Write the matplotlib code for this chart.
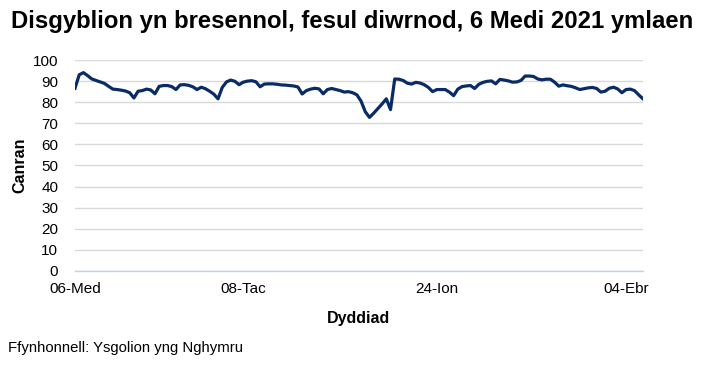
import matplotlib.pyplot as plt

plt.rcParams['font.family'] = ['Liberation Sans', 'DejaVu Sans']

# canran y disgyblion yn bresennol, un gwerth ar gyfer pob diwrnod ysgol
attendance = [
    86.6, 93.0, 94.0, 92.6, 91.0, 90.3, 89.6, 88.9, 87.5, 86.2,
    86.0, 85.7, 85.3, 84.5, 82.0, 85.2, 85.5, 86.2, 85.8, 84.0,
    87.5, 87.9, 87.9, 87.4, 86.0, 88.2, 88.3, 88.0, 87.3, 86.0,
    87.1, 86.4, 85.2, 83.8, 81.6, 87.0, 89.6, 90.5, 89.9, 88.3,
    89.5, 90.0, 90.2, 89.7, 87.3, 88.6, 88.7, 88.7, 88.5, 88.2,
    88.1, 87.9, 87.7, 87.2, 83.9, 85.5, 86.2, 86.6, 86.3, 84.0,
    86.0, 86.5, 86.0, 85.5, 84.8, 85.0, 84.5, 83.5, 80.5, 75.5,
    72.8, 74.8, 77.0, 79.2, 81.6, 76.5, 91.0, 90.9, 90.3, 89.0,
    88.6, 89.4, 89.1, 88.3, 87.0, 85.0, 86.0, 86.0, 86.0, 84.8,
    83.1, 86.2, 87.4, 87.7, 87.9, 86.5, 88.5, 89.4, 89.9, 90.1,
    88.7, 90.8, 90.5, 90.1, 89.5, 89.6, 90.3, 92.4, 92.4, 92.2,
    91.0, 90.6, 90.9, 90.9, 89.5, 87.6, 88.2, 87.8, 87.5, 86.8,
    86.0, 86.4, 86.8, 87.0, 86.5, 84.8, 85.2, 86.6, 87.1, 86.3,
    84.5, 86.0, 86.2, 85.5, 83.5, 81.6,
]
days = list(range(len(attendance)))

tick_pos = [0, 40, 86, 131]
tick_labels = ['06-Med', '08-Tac', '24-Ion', '04-Ebr']

fig = plt.figure(figsize=(7.09, 3.67), dpi=100)
ax = fig.add_axes([0.1058, 0.2616, 0.801, 0.5749])

ax.plot(days, attendance, color='#0a2c66', linewidth=2.3, solid_joinstyle='round')

ax.set_ylim(0, 100)
ax.set_xlim(0, 135)
ax.set_yticks(range(0, 101, 10))
ax.set_xticks(tick_pos)
ax.set_xticklabels(tick_labels)
ax.tick_params(axis='both', length=0, labelsize=11, colors='black')
ax.tick_params(axis='x', pad=8)
ax.tick_params(axis='y', pad=12)

ax.grid(axis='y', color='#d9d9d9', linewidth=1)
ax.set_axisbelow(True)
for s in ['top', 'right', 'left']:
    ax.spines[s].set_visible(False)
ax.spines['bottom'].set_color('#b9d3f0')
ax.spines['bottom'].set_linewidth(1)

ax.set_xlabel('Dyddiad', fontsize=11.5, fontweight='bold', labelpad=11)
ax.set_ylabel('Canran', fontsize=11.5, fontweight='bold', labelpad=4)

fig.text(0.497, 0.942, 'Disgyblion yn bresennol, fesul diwrnod, 6 Medi 2021 ymlaen',
         ha='center', va='center', fontsize=17.2, fontweight='bold')
fig.text(0.011, 0.053, 'Ffynhonnell: Ysgolion yng Nghymru', ha='left', va='center', fontsize=10.7)

fig.savefig('out.png', dpi=100)
plt.close()
